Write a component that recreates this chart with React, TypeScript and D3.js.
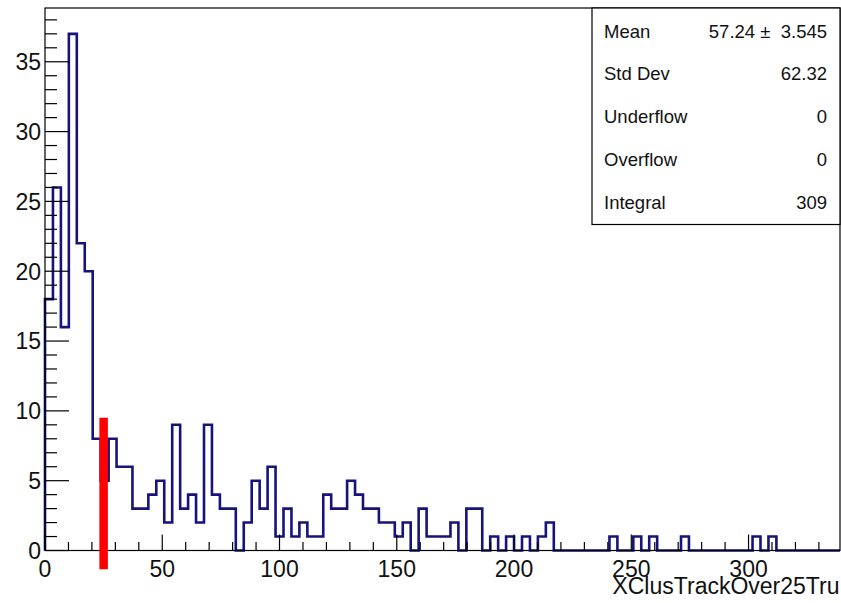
import React from "react";
import * as d3 from "d3";

// Histogram of XClusTrackOver25Tru: 100 bins over [0, 339]
const binCounts: number[] = [
  18, 26, 16, 37, 22, 20, 8, 5, 8, 6,
  6, 3, 3, 4, 5, 2, 9, 3, 4, 2,
  9, 4, 3, 3, 0, 2, 5, 3, 6, 1,
  3, 1, 2, 1, 1, 4, 3, 3, 5, 4,
  3, 3, 2, 2, 1, 2, 0, 3, 1, 1,
  1, 2, 0, 3, 3, 0, 1, 0, 1, 0,
  1, 0, 1, 2, 0, 0, 0, 0, 0, 0,
  0, 1, 0, 0, 1, 0, 1, 0, 0, 0,
  1, 0, 0, 0, 0, 0, 0, 0, 0, 1,
  0, 1, 0, 0, 0, 0, 0, 0, 0, 0,
];
const xRange: [number, number] = [0, 339];
const xMajorTicks: number[] = [0, 50, 100, 150, 200, 250, 300];
const yMajorTicks: number[] = [0, 5, 10, 15, 20, 25, 30, 35];
const axisTitle = "XClusTrackOver25Tru";

// Cut marker drawn at x = 25
const cutValue = 25;
const cutSpan: [number, number] = [-1.35, 9.5];

// Statistics box rows
const statLabels: string[] = ["Mean", "Std Dev", "Underflow", "Overflow", "Integral"];
const statValues: string[] = ["57.24 \u00b1  3.545", "62.32", "0", "0", "309"];

const W = 841;
const H = 603;
const frame = { left: 45, right: 840, top: 8, bottom: 550.5 };
const FONT = "'Liberation Sans', Arial, Helvetica, sans-serif";
const LINE_COLOR = "#16137a";

export default function App() {
  const nBins = binCounts.length;
  const maxCount = d3.max(binCounts) ?? 1;
  const x = d3.scaleLinear().domain(xRange).range([frame.left, frame.right]);
  const y = d3.scaleLinear().domain([0, maxCount * 1.05]).range([frame.bottom, frame.top]);
  const binWidth = (xRange[1] - xRange[0]) / nBins;

  // outline points: rise at first edge, step through bins, drop at last edge
  const pts: [number, number][] = [[xRange[0], 0]];
  binCounts.forEach((v, i) => pts.push([xRange[0] + i * binWidth, v]));
  pts.push([xRange[1], 0]);
  const outline = d3
    .line<[number, number]>()
    .x((d) => x(d[0]))
    .y((d) => y(d[1]))
    .curve(d3.curveStepAfter)(pts) as string;

  const xMinor = d3.range(0, xRange[1] + 0.001, 10).filter((v) => v % 50 !== 0);
  const yTop = y.domain()[1];
  const yMinor = d3.range(0, yTop, 1).filter((v) => v % 5 !== 0);

  const xMajLen = 16;
  const xMinLen = 8.5;
  const yMajLen = 24;
  const yMinLen = 12;

  const box = { left: 592, right: 840, top: 8, bottom: 224.5 };
  const rowBase = (i: number) => 37.5 + i * 42.9;

  return (
    <svg
      width={W}
      height={H}
      viewBox={`0 0 ${W} ${H}`}
      style={{ position: "absolute", left: 0, top: 0, background: "#fff" }}
    >
      <rect x={0} y={0} width={W} height={H} fill="#fff" />

      {/* histogram outline */}
      <path d={outline} fill="none" stroke={LINE_COLOR} strokeWidth={2.6} strokeLinejoin="miter" />

      {/* frame */}
      <rect
        x={frame.left}
        y={frame.top}
        width={frame.right - frame.left}
        height={frame.bottom - frame.top}
        fill="none"
        stroke="#000"
        strokeWidth={1.2}
      />

      {/* x axis ticks */}
      {xMajorTicks.map((t) => (
        <line key={`xM${t}`} x1={x(t)} x2={x(t)} y1={frame.bottom} y2={frame.bottom - xMajLen} stroke="#000" strokeWidth={1.2} />
      ))}
      {xMinor.map((t) => (
        <line key={`xm${t}`} x1={x(t)} x2={x(t)} y1={frame.bottom} y2={frame.bottom - xMinLen} stroke="#000" strokeWidth={1.2} />
      ))}
      {xMajorTicks.map((t) => (
        <text key={`xl${t}`} x={x(t)} y={577} fontFamily={FONT} fontSize={23} textAnchor="middle" fill="#111">
          {t}
        </text>
      ))}

      {/* y axis ticks */}
      {yMajorTicks.map((t) => (
        <line key={`yM${t}`} x1={frame.left} x2={frame.left + yMajLen} y1={y(t)} y2={y(t)} stroke="#000" strokeWidth={1.2} />
      ))}
      {yMinor.map((t) => (
        <line key={`ym${t}`} x1={frame.left} x2={frame.left + yMinLen} y1={y(t)} y2={y(t)} stroke="#000" strokeWidth={1.2} />
      ))}
      {yMajorTicks.map((t) => (
        <text key={`yl${t}`} x={41} y={y(t) + 8.3} fontFamily={FONT} fontSize={23} textAnchor="end" fill="#111">
          {t}
        </text>
      ))}

      {/* axis title */}
      <text x={839.5} y={593.5} fontFamily={FONT} fontSize={23} textAnchor="end" fill="#111">
        {axisTitle}
      </text>

      {/* cut marker */}
      <line
        x1={x(cutValue)}
        x2={x(cutValue)}
        y1={y(cutSpan[0])}
        y2={y(cutSpan[1])}
        stroke="#ff0000"
        strokeWidth={8.5}
      />

      {/* statistics box */}
      <rect
        x={box.left}
        y={box.top}
        width={box.right - box.left}
        height={box.bottom - box.top}
        fill="#fff"
        stroke="#000"
        strokeWidth={1.2}
      />
      {statLabels.map((s, i) => (
        <text key={`sl${i}`} x={604} y={rowBase(i)} fontFamily={FONT} fontSize={18.5} fill="#111">
          {s}
        </text>
      ))}
      {statValues.map((s, i) => (
        <text
          key={`sv${i}`}
          x={827}
          y={rowBase(i)}
          fontFamily={FONT}
          fontSize={18.5}
          textAnchor="end"
          fill="#111"
          style={{ whiteSpace: "pre" }}
        >
          {s}
        </text>
      ))}
    </svg>
  );
}
